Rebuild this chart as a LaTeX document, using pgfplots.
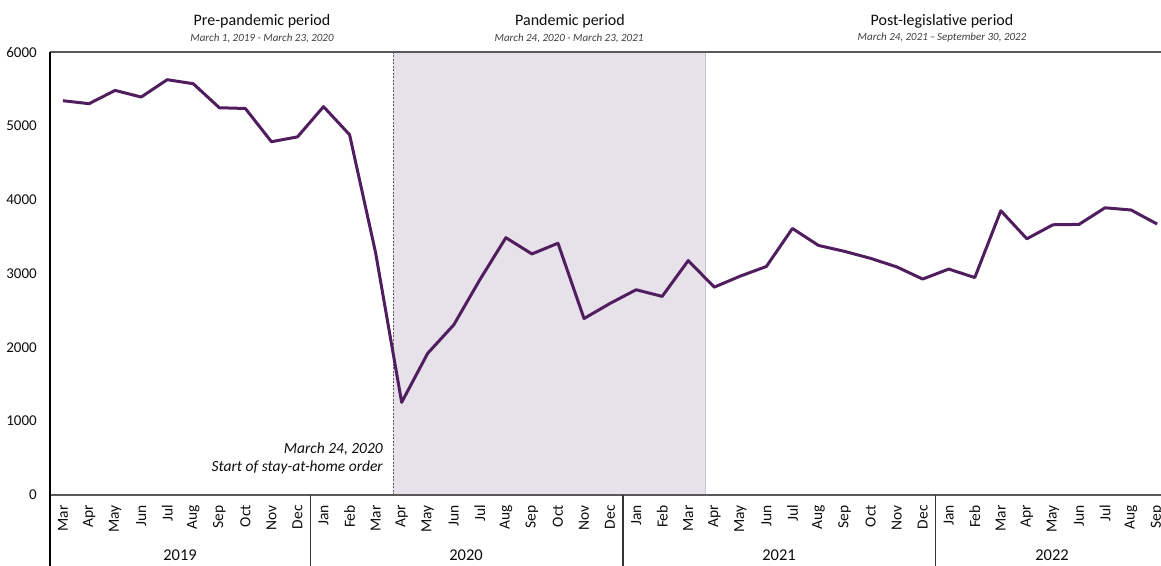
\documentclass[border=0pt]{standalone}
\usepackage{pgfplots}
\pgfplotsset{compat=1.18}
\usepackage{fontspec}
\setmainfont{Carlito}
\definecolor{lineP}{RGB}{80,30,94}
\definecolor{shadeP}{RGB}{231,226,233}
\definecolor{axgray}{RGB}{89,89,89}
\definecolor{txt}{RGB}{13,13,13}
\begin{document}
\begin{tikzpicture}[x=1pt,y=1pt]
\useasboundingbox (0,0) rectangle (1161,565);
\begin{axis}[
  at={(50pt,70pt)}, anchor=south west,
  width=1111pt, height=443pt, scale only axis,
  xmin=-0.5, xmax=42.15, ymin=0, ymax=6000,
  axis line style={draw=none},
  tick style={draw=none},
  clip=false,
  xtick={0,...,42},
  xticklabels={Mar,Apr,May,Jun,Jul,Aug,Sep,Oct,Nov,Dec,Jan,Feb,Mar,Apr,May,Jun,Jul,Aug,Sep,Oct,Nov,Dec,Jan,Feb,Mar,Apr,May,Jun,Jul,Aug,Sep,Oct,Nov,Dec,Jan,Feb,Mar,Apr,May,Jun,Jul,Aug,Sep},
  xticklabel style={rotate=90, anchor=east, inner sep=0pt, font=\fontsize{15.5}{17}\selectfont, text=txt},
  xticklabel shift=10pt,
  ytick={0,1000,2000,3000,4000,5000,6000},
  yticklabel style={inner sep=0pt, font=\fontsize{15}{17}\selectfont, text=txt},
  yticklabel shift=13pt,
  scaled y ticks=false,
  /pgf/number format/assume math mode=true,
  /pgf/number format/set thousands separator={},
]
% shaded pandemic period
\fill[shadeP] (axis cs:12.68,0) rectangle (axis cs:24.65,6000);
\draw[color={rgb,255:red,205;green,198;blue,210}, line width=0.8pt] (axis cs:24.65,0) -- (axis cs:24.65,6000);
\draw[color={rgb,255:red,90;green,90;blue,90}, line width=0.7pt, dash pattern=on 2pt off 1.5pt] (axis cs:12.68,0) -- (axis cs:12.68,6000);

\addplot[color=lineP, line width=3pt, line join=round, mark=none] coordinates {
(0,5340) (1,5300) (2,5480) (3,5390) (4,5625) (5,5570) (6,5245) (7,5235) (8,4785) (9,4850)
(10,5260) (11,4880) (12,3280) (13,1255) (14,1920) (15,2305) (16,2915) (17,3485) (18,3265) (19,3410)
(20,2390) (21,2595) (22,2780) (23,2690) (24,3175) (25,2815) (26,2965) (27,3095) (28,3610) (29,3380)
(30,3300) (31,3205) (32,3090) (33,2925) (34,3060) (35,2945) (36,3850) (37,3470) (38,3660) (39,3665)
(40,3890) (41,3860) (42,3670)
};

% axis frame
\draw[axgray, line width=2pt] (axis cs:-0.5,6000) -- (axis cs:42.15,6000);
\draw[axgray, line width=2pt] (axis cs:-0.5,0) -- (axis cs:42.15,0);
\draw[black, line width=1.2pt] (axis cs:-0.5,6000) -- (axis cs:-0.5,0) -- ([yshift=-72pt]axis cs:-0.5,0);
\draw[black!80, line width=1.5pt] (axis cs:9.5,0) -- ([yshift=-72pt]axis cs:9.5,0);
\draw[black!80, line width=1.5pt] (axis cs:21.5,0) -- ([yshift=-72pt]axis cs:21.5,0);
\draw[black!80, line width=1.5pt] (axis cs:33.5,0) -- ([yshift=-72pt]axis cs:33.5,0);
\end{axis}

% year labels
\begin{scope}[every node/.style={font=\fontsize{16.5}{18}\selectfont, text=txt}]
\node at (180,10) {2019};
\node at (466,10) {2020};
\node at (779,10) {2021};
\node at (1052,10) {2022};
\end{scope}

% period titles
\begin{scope}[every node/.style={text=txt}]
\node[font=\fontsize{16}{18}\selectfont] at (262,544) {Pre-pandemic period};
\node[font=\fontsize{11}{13}\itshape, text={rgb,255:red,64;green,64;blue,64}] at (262,527) {March 1, 2019 - March 23, 2020};
\node[font=\fontsize{16}{18}\selectfont] at (570,544) {Pandemic period};
\node[font=\fontsize{11}{13}\itshape, text={rgb,255:red,64;green,64;blue,64}] at (569,527) {March 24, 2020 - March 23, 2021};
\node[font=\fontsize{16}{18}\selectfont] at (942,544) {Post-legislative period};
\node[font=\fontsize{11}{13}\itshape, text={rgb,255:red,64;green,64;blue,64}] at (942,527) {March 24, 2021\,--\,September 30, 2022};
\node[font=\fontsize{15.5}{18}\itshape, align=right, anchor=east, inner sep=0pt] at (383,107) {March 24, 2020\\Start of stay-at-home order};
\end{scope}
\end{tikzpicture}
\end{document}
